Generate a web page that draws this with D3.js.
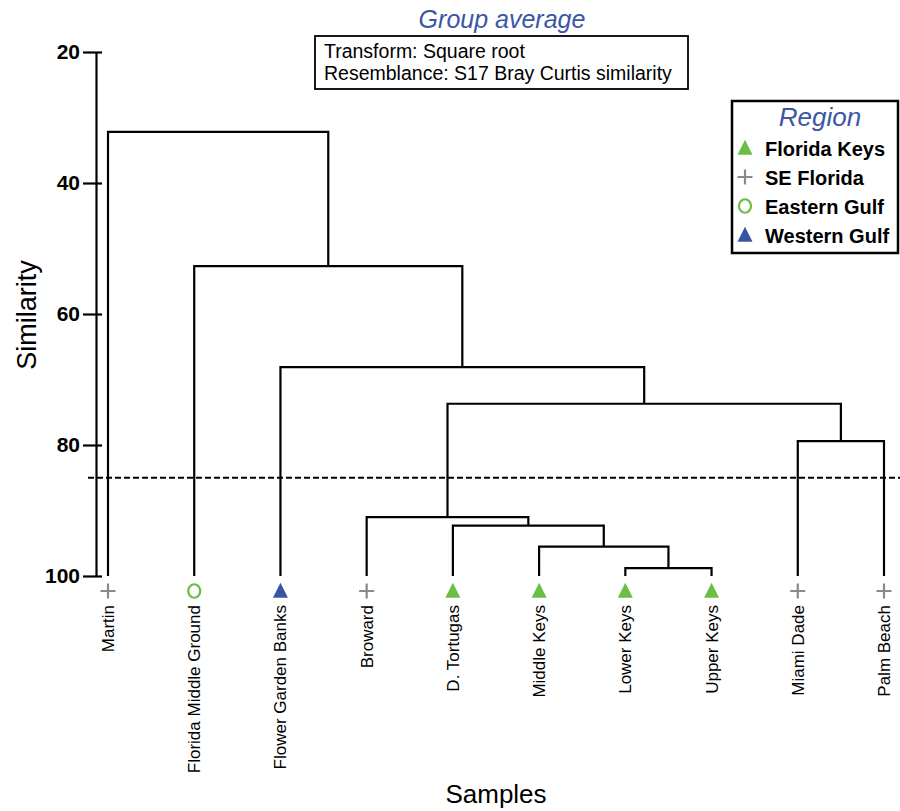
<!DOCTYPE html>
<html>
<head>
<meta http-equiv='Content-Type' content='text/html;charset=utf-8'/>
<title>Group average dendrogram</title>
<script src='https://d3js.org/d3.v7.min.js'></script>
<style>
body { margin: 0; background: #ffffff; font-family: 'Liberation Sans', Arial, sans-serif; }
</style>
</head>
<body>
<script>
'use strict'

// leaves, left to right
const samples = ['Martin', 'Florida Middle Ground', 'Flower Garden Banks', 'Broward', 'D. Tortugas',
	'Middle Keys', 'Lower Keys', 'Upper Keys', 'Miami Dade', 'Palm Beach']
const sampleRegion = ['SE Florida', 'Eastern Gulf', 'Western Gulf', 'SE Florida', 'Florida Keys',
	'Florida Keys', 'Florida Keys', 'Florida Keys', 'SE Florida', 'SE Florida']

// merges: [left child, right child, similarity]; children are leaf names or merge ids 'm0'..
const merges = [
	['Lower Keys', 'Upper Keys', 98.8],
	['Middle Keys', 'm0', 95.5],
	['D. Tortugas', 'm1', 92.3],
	['Broward', 'm2', 91.0],
	['Miami Dade', 'Palm Beach', 79.4],
	['m3', 'm4', 73.7],
	['Flower Garden Banks', 'm5', 68.1],
	['Florida Middle Ground', 'm6', 52.7],
	['Martin', 'm7', 32.2]
]

const cutLevel = 85
const yTicks = [20, 40, 60, 80, 100]
const regions = ['Florida Keys', 'SE Florida', 'Eastern Gulf', 'Western Gulf']
const regionColor = {'Florida Keys': '#6cbd45', 'SE Florida': '#8a8a8a', 'Eastern Gulf': '#6cbd45', 'Western Gulf': '#3a54a4'}
const regionShape = {'Florida Keys': 'triangle', 'SE Florida': 'plus', 'Eastern Gulf': 'circle', 'Western Gulf': 'triangle'}

const width = 900
const height = 811

const svg = d3.select('body').append('svg')
	.attr('width', width)
	.attr('height', height)

const x = d3.scalePoint().domain(samples).range([108, 884])
const y = d3.scaleLinear().domain([20, 100]).range([52, 576])

// node positions
const nodes = {}
samples.forEach(function(s) { nodes[s] = {x: x(s), sim: 100} })
merges.forEach(function(m, i) {
	const a = nodes[m[0]], b = nodes[m[1]]
	nodes['m' + i] = {x: (a.x + b.x) / 2, sim: m[2]}
})

const tree = svg.append('g')
	.attr('fill', 'none')
	.attr('stroke', '#000')
	.attr('stroke-width', 2.2)

merges.forEach(function(m) {
	const a = nodes[m[0]], b = nodes[m[1]]
	const py = y(m[2])
	tree.append('path')
		.attr('d', 'M' + a.x + ',' + y(a.sim) + 'V' + py + 'H' + b.x + 'V' + y(b.sim))
})

// cut line
svg.append('line')
	.attr('x1', 88).attr('x2', 900)
	.attr('y1', y(cutLevel)).attr('y2', y(cutLevel))
	.attr('stroke', '#000')
	.attr('stroke-width', 1.8)
	.attr('stroke-dasharray', '6,3')

// y axis
const yAxis = svg.append('g')
	.attr('transform', 'translate(96,0)')
	.call(d3.axisLeft(y).tickValues(yTicks).tickSize(0).tickPadding(16))
yAxis.select('.domain').attr('stroke', '#000').attr('stroke-width', 2.2)
yAxis.selectAll('.tick line').attr('x1', -13).attr('x2', 6).attr('stroke', '#000').attr('stroke-width', 2.2)
yAxis.selectAll('.tick text')
	.attr('fill', '#000')
	.style('font-family', "'Liberation Sans', Arial, sans-serif")
	.style('font-size', '21px')
	.style('font-weight', 'bold')

svg.append('text')
	.attr('transform', 'translate(36,315) rotate(-90)')
	.attr('text-anchor', 'middle')
	.style('font-size', '27px')
	.text('Similarity')

svg.append('text')
	.attr('x', 496).attr('y', 803)
	.attr('text-anchor', 'middle')
	.style('font-size', '26px')
	.text('Samples')

function drawMarker(g, region, cx, cy, size) {
	const shape = regionShape[region]
	const col = regionColor[region]
	if (shape === 'triangle') {
		g.append('path')
			.attr('d', 'M' + cx + ',' + (cy - size * 0.55) + 'L' + (cx + size / 2) + ',' + (cy + size * 0.45) +
				'L' + (cx - size / 2) + ',' + (cy + size * 0.45) + 'Z')
			.attr('fill', col)
	} else if (shape === 'plus') {
		g.append('path')
			.attr('d', 'M' + (cx - size / 2) + ',' + cy + 'H' + (cx + size / 2) + 'M' + cx + ',' + (cy - size / 2) + 'V' + (cy + size / 2))
			.attr('stroke', col).attr('stroke-width', 2.2).attr('fill', 'none')
	} else {
		g.append('ellipse')
			.attr('cx', cx).attr('cy', cy).attr('rx', size * 0.4).attr('ry', size * 0.45)
			.attr('stroke', col).attr('stroke-width', 2.2).attr('fill', 'none')
	}
}

// leaf markers and labels
const leaves = svg.append('g')
samples.forEach(function(s, i) {
	drawMarker(leaves, sampleRegion[i], x(s), 591, 15)
	leaves.append('text')
		.attr('transform', 'translate(' + (x(s) + 6) + ',605) rotate(-90)')
		.attr('text-anchor', 'end')
		.style('font-size', '17px')
		.text(s)
})

// title
svg.append('text')
	.attr('x', 502).attr('y', 28)
	.attr('text-anchor', 'middle')
	.attr('fill', '#3c56a6')
	.style('font-size', '25px')
	.style('font-style', 'italic')
	.text('Group average')

svg.append('rect')
	.attr('x', 315).attr('y', 36).attr('width', 373).attr('height', 53)
	.attr('fill', 'none').attr('stroke', '#000').attr('stroke-width', 1.8)
svg.append('text').attr('x', 324).attr('y', 58).style('font-size', '19.5px').text('Transform: Square root')
svg.append('text').attr('x', 324).attr('y', 80).style('font-size', '19.5px').text('Resemblance: S17 Bray Curtis similarity')

// legend
const legend = svg.append('g')
legend.append('rect')
	.attr('x', 732).attr('y', 101).attr('width', 166).attr('height', 152)
	.attr('fill', 'none').attr('stroke', '#000').attr('stroke-width', 2.5)
legend.append('text')
	.attr('x', 820).attr('y', 126)
	.attr('text-anchor', 'middle')
	.attr('fill', '#3c56a6')
	.style('font-size', '26px')
	.style('font-style', 'italic')
	.text('Region')
regions.forEach(function(r, i) {
	const ly = 148 + i * 29
	drawMarker(legend, r, 745, ly, 15)
	legend.append('text')
		.attr('x', 765).attr('y', ly + 8)
		.style('font-size', '20px')
		.style('font-weight', 'bold')
		.text(r)
})
</script>
</body>
</html>
